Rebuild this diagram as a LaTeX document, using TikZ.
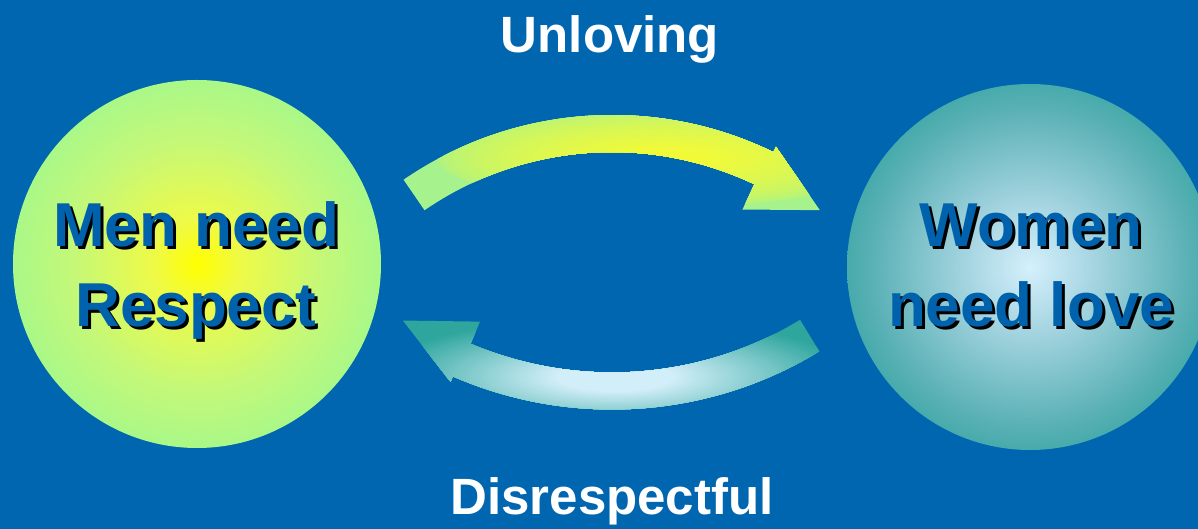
\documentclass[tikz,border=0pt]{standalone}
\usepackage{fontspec}
\setmainfont{Liberation Sans}
\usetikzlibrary{calc}

\definecolor{bg}{HTML}{0066B0}
\definecolor{needblue}{HTML}{0062AC}
% left ball colours
\definecolor{mencore}{HTML}{FFFF00}
\definecolor{menmid}{HTML}{EEFA48}
\definecolor{menlight}{HTML}{C4F878}
\definecolor{menedge}{HTML}{9CF890}
% right ball colours
\definecolor{womencore}{HTML}{D4F0FC}
\definecolor{womenmid}{HTML}{A4D4E0}
\definecolor{womenlight}{HTML}{58B0B4}
\definecolor{womenedge}{HTML}{1E9E98}
% arrow colours
\definecolor{arrowgreen}{HTML}{A6F28C}
\definecolor{arrowyellow}{HTML}{F2FA38}
\definecolor{arrowteal}{HTML}{2EA69E}
\definecolor{arrowpale}{HTML}{D2EEF8}

% the rim of a shaded circle sits at about 35bp
\pgfdeclareradialshading{menball}{\pgfpoint{0bp}{0bp}}{%
  color(0bp)=(mencore); color(6bp)=(menmid); color(17bp)=(menlight);
  color(29bp)=(menedge); color(50bp)=(menedge)}
\pgfdeclareradialshading{womenball}{\pgfpoint{0bp}{0bp}}{%
  color(0bp)=(womencore); color(9bp)=(womenmid); color(22bp)=(womenlight);
  color(32bp)=(womenedge); color(50bp)=(womenedge)}

% text with a black drop shadow behind it
\newcommand\dropshadowed[1]{%
  \makebox[0pt][l]{\hspace{3pt}\raisebox{-3pt}[0pt][0pt]{\textcolor{black}{#1}}}#1}

\begin{document}
\begin{tikzpicture}[x=1pt,y=1pt,
  caption/.style={font=\fontsize{51}{60}\selectfont\bfseries, text=white, inner sep=0pt},
  need/.style={font=\fontsize{62}{80}\selectfont\bfseries, text=needblue,
    align=center, inner sep=0pt},
  ball/.style={circle, draw=none, inner sep=0pt, minimum size=#1}]
\useasboundingbox (0,0) rectangle (1198,529);
\fill[bg] (0,0) rectangle (1198,529);

% the two balls
\node[ball=368, shading=menball, shade] (menball) at (197,265) {};
\node[ball=366, shading=womenball, shade] (womenball) at (1030,262) {};

% centres of the two curved arrows
\coordinate (topc) at (612,46);
\coordinate (botc) at (612,518.5);

% upper arrow, pointing right; a soft yellow glow runs along its inner edge
\begin{scope}
  \clip ($(topc)+(124.5:368)$) arc[start angle=124.5, end angle=64, radius=368]
    -- ($(topc)+(64:374)$) -- ($(topc)+(52.7:343)$) -- ($(topc)+(64.5:303)$)
    -- ($(topc)+(64.5:331)$) arc[start angle=64.5, end angle=124.5, radius=331]
    -- cycle;
  \fill[arrowgreen] (390,90) rectangle (840,440);
  \foreach \k in {1,...,40} {
    \pgfmathsetmacro\pct{100*sqrt(\k/40)}
    \pgfmathsetmacro\sc{1-0.85*\k/40}
    \fill[arrowyellow!\pct!arrowgreen] (668,371) ellipse ({235*\sc} and {50*\sc});
  }
\end{scope}

% lower arrow, pointing left; pale in the middle, teal towards both ends
\begin{scope}
  \clip ($(botc)+(-58.7:362)$) -- ($(botc)+(-58.7:399)$)
    arc[start angle=-58.7, end angle=-113.5, radius=399]
    -- ($(botc)+(-113.5:405)$) -- ($(botc)+(-124:374)$) -- ($(botc)+(-113:338)$)
    -- ($(botc)+(-113:362)$) arc[start angle=-113, end angle=-58.7, radius=362]
    -- cycle;
  \fill[arrowteal] (390,90) rectangle (840,440);
  \foreach \k in {1,...,40} {
    \pgfmathsetmacro\pct{100*\k/40}
    \pgfmathsetmacro\sc{1-0.75*\k/40}
    \fill[arrowpale!\pct!arrowteal] (615,152) ellipse ({240*\sc} and {60*\sc});
  }
\end{scope}

% texts
\node[caption, anchor=base] (unloving) at (610,476) {Unloving};
\node[caption, anchor=base] (disrespectful) at (612,14) {Disrespectful};
\node[need, anchor=base] (mentext) at (196,202)
  {\dropshadowed{Men need}\\\dropshadowed{Respect}};
\node[need, anchor=base] (womentext) at (1031,202)
  {\dropshadowed{Women}\\\dropshadowed{need love}};
\end{tikzpicture}
\end{document}
